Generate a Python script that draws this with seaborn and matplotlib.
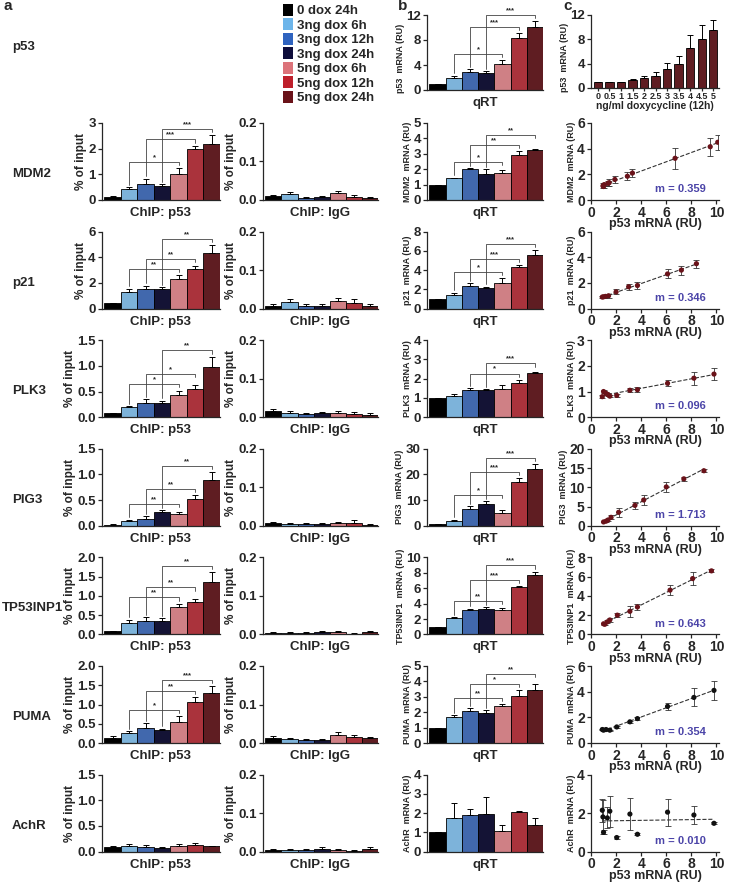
import numpy as np
import matplotlib
matplotlib.use("Agg")
import matplotlib.pyplot as plt
import seaborn as sns
from matplotlib.patches import Patch
from matplotlib.ticker import FormatStrFormatter

sns.set_style("ticks")
plt.rcParams['font.family'] = ['Liberation Sans', 'DejaVu Sans']
plt.rcParams['font.weight'] = 'bold'
plt.rcParams['axes.labelweight'] = 'bold'
plt.rcParams['axes.linewidth'] = 0.9
plt.rcParams['xtick.major.width'] = 0.9
plt.rcParams['ytick.major.width'] = 0.9
plt.rcParams['xtick.major.size'] = 3
plt.rcParams['ytick.major.size'] = 3
plt.rcParams['xtick.major.pad'] = 1
plt.rcParams['ytick.major.pad'] = 1.5

# ---- data ----
conditions = ["0 dox 24h", "3ng dox 6h", "3ng dox 12h", "3ng dox 24h",
              "5ng dox 6h", "5ng dox 12h", "5ng dox 24h"]
cond_colors = ["#000000", "#6db5ea", "#2f63bf", "#0e0d3b",
               "#dc737a", "#be1f2b", "#6a1219"]
genes = ["MDM2", "p21", "PLK3", "PIG3", "TP53INP1", "PUMA", "AchR"]

chip_p53_mean = [
    [0.12, 0.41, 0.64, 0.56, 1.03, 1.97, 2.20],
    [0.40, 1.30, 1.55, 1.55, 2.30, 3.05, 4.30],
    [0.08, 0.19, 0.27, 0.28, 0.43, 0.54, 0.98],
    [0.02, 0.10, 0.14, 0.26, 0.23, 0.52, 0.89],
    [0.08, 0.30, 0.35, 0.35, 0.70, 0.84, 1.37],
    [0.14, 0.26, 0.40, 0.35, 0.55, 1.07, 1.30],
    [0.08, 0.10, 0.08, 0.07, 0.11, 0.13, 0.10],
]
chip_p53_err = [
    [0.02, 0.10, 0.19, 0.06, 0.20, 0.15, 0.33],
    [0.05, 0.25, 0.23, 0.13, 0.28, 0.30, 0.65],
    [0.01, 0.02, 0.08, 0.04, 0.09, 0.09, 0.20],
    [0.01, 0.02, 0.05, 0.05, 0.04, 0.08, 0.16],
    [0.02, 0.08, 0.10, 0.07, 0.10, 0.07, 0.25],
    [0.04, 0.05, 0.12, 0.02, 0.14, 0.12, 0.17],
    [0.03, 0.04, 0.04, 0.02, 0.04, 0.04, 0.01],
]
chip_igg_mean = [
    [0.010, 0.015, 0.006, 0.007, 0.018, 0.009, 0.005],
    [0.008, 0.017, 0.008, 0.008, 0.020, 0.015, 0.008],
    [0.015, 0.010, 0.008, 0.010, 0.010, 0.009, 0.007],
    [0.006, 0.005, 0.005, 0.005, 0.008, 0.008, 0.003],
    [0.004, 0.003, 0.004, 0.006, 0.005, 0.002, 0.007],
    [0.012, 0.010, 0.008, 0.008, 0.020, 0.015, 0.012],
    [0.005, 0.004, 0.005, 0.007, 0.005, 0.002, 0.007],
]
chip_igg_err = [
    [0.003, 0.005, 0.002, 0.003, 0.005, 0.003, 0.002],
    [0.003, 0.008, 0.003, 0.003, 0.008, 0.010, 0.003],
    [0.007, 0.006, 0.003, 0.003, 0.005, 0.004, 0.004],
    [0.004, 0.002, 0.002, 0.003, 0.003, 0.006, 0.001],
    [0.002, 0.003, 0.002, 0.003, 0.004, 0.001, 0.003],
    [0.005, 0.003, 0.003, 0.003, 0.008, 0.007, 0.004],
    [0.002, 0.003, 0.002, 0.004, 0.003, 0.001, 0.004],
]
chip_sig = [["*", "***", "***"], ["**", "**", "**"], ["*", "*", "**"],
            ["**", "**", "**"], ["**", "**", "**"], ["*", "**", "***"], []]

# qRT: first row is p53 itself
qrt_mean = [
    [1.0, 2.0, 2.9, 2.75, 4.1, 8.3, 10.1],
    [1.0, 1.4, 2.0, 1.72, 1.78, 2.95, 3.22],
    [1.0, 1.45, 2.4, 2.15, 2.65, 4.3, 5.55],
    [1.0, 1.1, 1.42, 1.42, 1.47, 1.8, 2.32],
    [0.8, 2.0, 6.6, 8.4, 5.0, 17.2, 22.0],
    [1.0, 2.1, 3.2, 3.25, 3.2, 6.15, 7.7],
    [1.0, 1.69, 2.1, 1.95, 2.4, 3.07, 3.45],
    [1.0, 1.75, 1.9, 1.95, 1.07, 2.06, 1.38],
]
qrt_err = [
    [0.0, 0.3, 0.4, 0.3, 0.75, 0.75, 0.9],
    [0.0, 0.05, 0.07, 0.3, 0.17, 0.2, 0.1],
    [0.0, 0.2, 0.25, 0.12, 0.55, 0.2, 0.5],
    [0.0, 0.1, 0.08, 0.02, 0.2, 0.15, 0.04],
    [0.0, 0.4, 1.0, 1.1, 1.2, 1.5, 2.0],
    [0.0, 0.1, 0.15, 0.25, 0.25, 0.15, 0.45],
    [0.0, 0.1, 0.15, 0.18, 0.15, 0.35, 0.4],
    [0.0, 0.77, 0.33, 0.87, 0.32, 0.03, 0.35],
]
qrt_sig = [["*", "***", "***"], ["*", "**", "**"], ["*", "***", "***"],
           [None, "*", "***"], ["*", "***", "***"], ["**", "***", "***"],
           ["**", "*", "**"], []]
sig_pairs = [(1, 4), (2, 5), (3, 6)]

# p53 dose response (panel c, top)
dose_labels = ["0", "0.5", "1", "1.5", "2", "2.5", "3", "3.5", "4", "4.5", "5"]
dose_mean = [1.0, 1.0, 1.0, 1.3, 1.6, 2.0, 3.1, 4.0, 6.5, 8.1, 9.6]
dose_err = [0.05, 0.05, 0.05, 0.15, 0.35, 0.6, 1.0, 1.2, 2.2, 2.2, 1.6]

# correlation panels: p53 mRNA (x) vs target mRNA (y)
scat_x = [
    [0.95, 1.0, 1.05, 1.35, 1.45, 1.9, 2.9, 3.3, 6.7, 9.5, 10.1],
    [0.9, 1.0, 1.15, 1.4, 2.0, 3.0, 3.7, 6.1, 7.2, 8.4],
    [0.9, 1.0, 1.2, 1.35, 1.5, 2.05, 3.1, 3.7, 6.1, 8.2, 9.8],
    [1.0, 1.2, 1.35, 1.6, 2.2, 3.5, 4.2, 6.0, 7.4, 9.0],
    [1.0, 1.1, 1.3, 1.5, 2.1, 3.1, 3.7, 6.3, 8.1, 9.6],
    [0.9, 1.0, 1.2, 1.5, 2.05, 3.1, 3.7, 6.1, 8.2, 9.8],
    [0.9, 0.95, 1.0, 1.3, 1.5, 2.05, 3.1, 3.7, 6.1, 8.2, 9.8],
]
scat_y = [
    [1.1, 1.05, 1.2, 1.3, 1.35, 1.6, 1.85, 2.1, 3.25, 4.15, 4.5],
    [0.9, 0.92, 0.95, 1.0, 1.3, 1.7, 1.8, 2.7, 3.0, 3.5],
    [0.8, 1.0, 0.93, 0.88, 0.82, 0.85, 1.05, 1.07, 1.32, 1.52, 1.68],
    [1.0, 1.2, 1.5, 2.2, 3.5, 5.3, 6.7, 10.1, 12.2, 14.3],
    [1.1, 1.05, 1.3, 1.5, 2.0, 2.4, 2.85, 4.6, 5.8, 6.6],
    [1.05, 1.0, 1.05, 1.0, 1.25, 1.65, 1.9, 2.85, 3.55, 4.1],
    [2.15, 1.8, 1.0, 1.75, 2.1, 0.73, 1.95, 0.9, 2.05, 1.9, 1.47],
]
scat_err = [
    [0.2, 0.15, 0.1, 0.2, 0.25, 0.3, 0.3, 0.3, 0.8, 0.7, 0.6],
    [0.08, 0.08, 0.1, 0.15, 0.2, 0.25, 0.25, 0.35, 0.35, 0.3],
    [0.05, 0.05, 0.05, 0.05, 0.05, 0.05, 0.08, 0.1, 0.12, 0.25, 0.25],
    [0.1, 0.2, 0.3, 0.5, 1.2, 1.0, 1.2, 1.3, 0.6, 0.4],
    [0.1, 0.1, 0.15, 0.2, 0.2, 0.6, 0.35, 0.5, 0.7, 0.15],
    [0.05, 0.05, 0.05, 0.05, 0.05, 0.08, 0.1, 0.3, 0.7, 0.75],
    [0.6, 0.9, 0.1, 0.55, 0.8, 0.08, 0.85, 0.05, 0.7, 0.45, 0.05],
]
slope_text = ["m = 0.359", "m = 0.346", "m = 0.096", "m = 1.713",
              "m = 0.643", "m = 0.354", "m = 0.010"]
point_colors = ["#6a1219"] * 5 + ["#111111"] * 2

chip_lim = [(3, 1), (6, 2), (1.5, 0.5), (1.5, 0.5), (2.0, 0.5), (2.0, 0.5), (1.5, 0.5)]
qrt_lim = [(12, 4), (5, 1), (8, 2), (4, 1), (30, 10), (10, 2), (5, 1), (4, 1)]
scat_lim = [(6, 2), (6, 2), (3, 1), (20, 5), (8, 2), (6, 2), (4, 2)]

# ---- figure ----
W, H = 729, 882
fig = plt.figure(figsize=(W / 100, H / 100), dpi=100)


def add_ax(x0, y_top, w, h):
    return fig.add_axes([x0 / W, 1 - (y_top + h) / H, w / W, h / H])


def bar_panel(ax, vals, errs, ymax, step, sigs, ylabel, xlabel, ylabel_size, fmt):
    sns.barplot(x=conditions, y=vals, hue=conditions, palette=cond_colors,
                legend=False, width=1.0, edgecolor="black", linewidth=0.6,
                errorbar=None, ax=ax)
    ax.errorbar(np.arange(7), vals, yerr=[np.zeros(7), errs], fmt="none",
                ecolor="black", elinewidth=0.7, capsize=2.5, capthick=0.7)
    ax.set_xlim(-0.65, 6.5)
    ax.set_ylim(0, ymax)
    ax.set_yticks(np.arange(0, ymax + step / 2, step))
    ax.yaxis.set_major_formatter(FormatStrFormatter(fmt))
    ax.set_xticks([])
    ax.tick_params(axis="y", labelsize=9.5)
    ax.set_ylabel(ylabel, fontsize=ylabel_size, labelpad=1)
    ax.set_xlabel(xlabel, fontsize=9.5, labelpad=5)
    sns.despine(ax=ax)
    # significance brackets
    tops = np.array(vals) + np.array(errs)
    pad = 0.08 * ymax
    prev = 0
    for (i, j), s in zip(sig_pairs, sigs):
        if s is None:
            continue
        h = max(tops[i:j + 1].max() + pad, prev + 0.13 * ymax)
        prev = h
        ax.plot([i, i, j, j], [tops[i] + 0.03 * ymax, h, h, h - 0.04 * ymax],
                color="#444444", lw=0.6, clip_on=False)
        ax.text((i + j) / 2, h + 0.01 * ymax, s, ha="center", va="bottom",
                fontsize=5.5, clip_on=False)


col_x = [102, 263, 427, 591]
col_w = [118, 115, 116, 128]
row_h = 77
row_step = 108.6

# row 0: p53 qRT and dose response
ax = add_ax(col_x[2], 15, col_w[2], 75)
bar_panel(ax, qrt_mean[0], qrt_err[0], 12, 4, qrt_sig[0], "p53  mRNA (RU)", "qRT", 6.5, "%d")
ax.yaxis.label.set_y(0.42)

ax = add_ax(col_x[3], 15, col_w[3], 73)
sns.barplot(x=dose_labels, y=dose_mean, color="#6a1219", edgecolor="black",
            linewidth=0.6, width=0.72, errorbar=None, ax=ax)
ax.errorbar(np.arange(11), dose_mean, yerr=[np.zeros(11), dose_err], fmt="none",
            ecolor="black", elinewidth=0.7, capsize=2, capthick=0.7)
ax.set_xlim(-0.6, 10.5)
ax.set_ylim(0, 12)
ax.set_yticks([0, 4, 8, 12])
ax.tick_params(axis="y", labelsize=9.5)
ax.tick_params(axis="x", labelsize=6.5, length=2, pad=1)
ax.set_ylabel("p53  mRNA (RU)", fontsize=6.5, labelpad=1)
ax.yaxis.label.set_y(0.42)
ax.set_xlabel("ng/ml doxycycline (12h)", fontsize=7.5, labelpad=0)
sns.despine(ax=ax)

for r, gene in enumerate(genes):
    top = 123 + row_step * r
    ymax, step = chip_lim[r]
    fmt = "%.1f" if step < 1 else "%d"
    ax = add_ax(col_x[0], top, col_w[0], row_h)
    bar_panel(ax, chip_p53_mean[r], chip_p53_err[r], ymax, step, chip_sig[r],
              "% of input", "ChIP: p53", 8.5, fmt)

    ax = add_ax(col_x[1], top, col_w[1], row_h)
    bar_panel(ax, chip_igg_mean[r], chip_igg_err[r], 0.2, 0.1, [],
              "% of input", "ChIP: IgG", 8.5, "%.1f")

    ymax, step = qrt_lim[r + 1]
    ax = add_ax(col_x[2], top, col_w[2], row_h)
    bar_panel(ax, qrt_mean[r + 1], qrt_err[r + 1], ymax, step, qrt_sig[r + 1],
              gene + "  mRNA (RU)", "qRT", 6.5, "%d")

    # correlation with p53 mRNA
    ax = add_ax(col_x[3], top, col_w[3], row_h)
    ymax, step = scat_lim[r]
    ax.errorbar(scat_x[r], scat_y[r], yerr=scat_err[r], fmt="none",
                ecolor="#333333", elinewidth=0.6, capsize=2, capthick=0.6)
    sns.regplot(x=np.array(scat_x[r]), y=np.array(scat_y[r]), scatter=False, ci=None,
                ax=ax, line_kws=dict(color="#333333", ls="--", lw=0.8))
    sns.scatterplot(x=scat_x[r], y=scat_y[r], color=point_colors[r], s=14,
                    edgecolor="none", ax=ax, zorder=5)
    ax.set_xlim(0, 10.2)
    ax.set_ylim(0, ymax)
    ax.set_xticks([0, 2, 4, 6, 8, 10])
    ax.set_yticks(np.arange(0, ymax + step / 2, step))
    ax.tick_params(labelsize=10)
    ax.set_xlabel("p53 mRNA (RU)", fontsize=9, labelpad=-1)
    ax.set_ylabel(gene + "  mRNA (RU)", fontsize=6.5, labelpad=1)
    ax.text(0.7, 0.14, slope_text[r], transform=ax.transAxes, ha="center",
            va="center", fontsize=8, color="#4b44a8")
    sns.despine(ax=ax)

    fig.text((2 if gene == "TP53INP1" else 12) / W, 1 - (top + 51) / H, gene,
             fontsize=9.5, va="center", ha="left")

fig.text(12 / W, 1 - 47 / H, "p53", fontsize=9.5, va="center", ha="left")
for letter, x in [("a", 4), ("b", 398), ("c", 563)]:
    fig.text(x / W, 1 - 6 / H, letter, fontsize=11, va="center", ha="left")

handles = [Patch(facecolor=c, edgecolor="none") for c in cond_colors]
fig.legend(handles, conditions, loc="upper left", bbox_to_anchor=(283 / W, 1 - 4 / H),
           frameon=False, fontsize=9.5, handlelength=0.75, handleheight=1.0,
           handletextpad=0.3, labelspacing=0.08, borderaxespad=0, borderpad=0)

fig.savefig("out.png", dpi=100)
